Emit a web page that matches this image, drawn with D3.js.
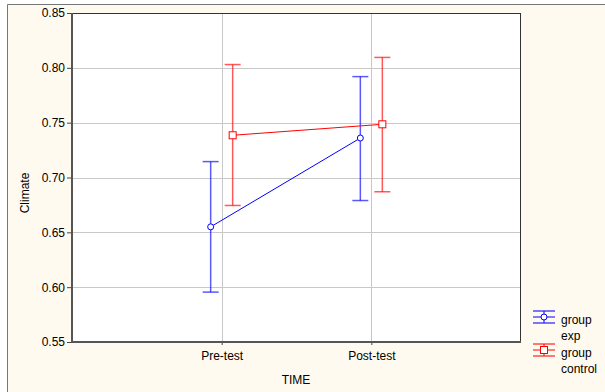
<!DOCTYPE html>
<html>
<head>
<meta charset="utf-8">
<script src="https://cdn.jsdelivr.net/npm/d3@7"></script>
<style>
  body { margin: 0; background: #fff; }
  text { font-family: "Liberation Sans", Arial, sans-serif; }
</style>
</head>
<body>
<script>
var w = 605;
var h = 392;

var times = ["Pre-test", "Post-test"];
var groups = ["exp", "control"];
var groupColors = ["#0000ff", "#ff0000"];
var expMean = [0.655, 0.736];
var expLow = [0.5955, 0.679];
var expHigh = [0.7145, 0.792];
var controlMean = [0.7385, 0.7485];
var controlLow = [0.6745, 0.687];
var controlHigh = [0.803, 0.8095];
var yTicks = [0.55, 0.60, 0.65, 0.70, 0.75, 0.80, 0.85];

var plotLeft = 72, plotRight = 521, plotTop = 13, plotBottom = 342;

var svg = d3.select("body")
    .append("svg")
    .attr("width", w)
    .attr("height", h);

// background panel
svg.append("rect")
    .attr("x", 7).attr("y", 4)
    .attr("width", w - 7).attr("height", h - 4)
    .attr("fill", "#fffaef");
svg.append("path")
    .attr("d", "M7.5," + h + "V4.5H" + w)
    .attr("fill", "none")
    .attr("stroke", "#777");

svg.append("rect")
    .attr("x", plotLeft).attr("y", plotTop)
    .attr("width", plotRight - plotLeft).attr("height", plotBottom - plotTop)
    .attr("fill", "#fff");

var xScale = d3.scalePoint()
    .domain(times)
    .range([plotLeft, plotRight])
    .padding(1);

var yScale = d3.scaleLinear()
    .domain([0.55, 0.85])
    .range([plotBottom, plotTop]);

var offset = d3.scalePoint()
    .domain(groups)
    .range([-11, 11]);

// grid
svg.append("g").selectAll("line")
    .data(yTicks.slice(1, -1))
    .enter().append("line")
    .attr("x1", plotLeft).attr("x2", plotRight)
    .attr("y1", function(d) { return Math.round(yScale(d)) + 0.5; })
    .attr("y2", function(d) { return Math.round(yScale(d)) + 0.5; })
    .attr("stroke", "#c8c8c8");

svg.append("g").selectAll("line")
    .data(times)
    .enter().append("line")
    .attr("y1", plotTop).attr("y2", plotBottom)
    .attr("x1", function(d) { return Math.round(xScale(d)) + 0.5; })
    .attr("x2", function(d) { return Math.round(xScale(d)) + 0.5; })
    .attr("stroke", "#c8c8c8");

// axes
var yAxis = d3.axisLeft(yScale)
    .tickValues(yTicks)
    .tickFormat(d3.format(".2f"))
    .tickSize(5)
    .tickPadding(2);

var gy = svg.append("g")
    .attr("transform", "translate(" + plotLeft + ",0)")
    .call(yAxis);
gy.select(".domain").remove();
gy.selectAll("line").attr("stroke", "#444");
gy.selectAll("text").style("font-size", "12px").attr("fill", "#000");

var xAxis = d3.axisBottom(xScale)
    .tickSize(3)
    .tickPadding(6);

var gx = svg.append("g")
    .attr("transform", "translate(0," + plotBottom + ")")
    .call(xAxis);
gx.select(".domain").remove();
gx.selectAll("line").attr("stroke", "#444");
gx.selectAll("text").style("font-size", "12px").attr("fill", "#000");

// frame
svg.append("rect")
    .attr("x", plotLeft + 0.5).attr("y", plotTop + 0.5)
    .attr("width", plotRight - plotLeft - 1).attr("height", plotBottom - plotTop - 1)
    .attr("fill", "none")
    .attr("stroke", "#333");
svg.append("path")
    .attr("d", "M" + plotLeft + "," + plotTop + "V" + plotBottom + "H" + plotRight)
    .attr("fill", "none")
    .attr("stroke", "#555")
    .attr("stroke-width", 2);

// series
var series = [
    { name: "exp", mean: expMean, low: expLow, high: expHigh, color: groupColors[0], shape: "circle" },
    { name: "control", mean: controlMean, low: controlLow, high: controlHigh, color: groupColors[1], shape: "square" }
];

series.forEach(function(s) {
    var pts = times.map(function(t, i) {
        return { x: xScale(t) + offset(s.name), m: s.mean[i], lo: s.low[i], hi: s.high[i] };
    });
    var g = svg.append("g");

    // error bars
    var eb = g.selectAll("g.err")
        .data(pts)
        .enter().append("g")
        .attr("stroke", s.color)
        .attr("stroke-opacity", 0.65)
        .attr("stroke-width", 1.5);
    eb.append("line")
        .attr("x1", function(d) { return d.x; }).attr("x2", function(d) { return d.x; })
        .attr("y1", function(d) { return yScale(d.lo); }).attr("y2", function(d) { return yScale(d.hi); });
    eb.append("line")
        .attr("x1", function(d) { return d.x - 8; }).attr("x2", function(d) { return d.x + 8; })
        .attr("y1", function(d) { return yScale(d.lo); }).attr("y2", function(d) { return yScale(d.lo); });
    eb.append("line")
        .attr("x1", function(d) { return d.x - 8; }).attr("x2", function(d) { return d.x + 8; })
        .attr("y1", function(d) { return yScale(d.hi); }).attr("y2", function(d) { return yScale(d.hi); });

    // line
    g.append("path")
        .datum(pts)
        .attr("d", d3.line().x(function(d) { return d.x; }).y(function(d) { return yScale(d.m); }))
        .attr("fill", "none")
        .attr("stroke", s.color)
        .attr("stroke-width", 1);

    // markers
    if (s.shape === "circle") {
        g.selectAll("circle")
            .data(pts)
            .enter().append("circle")
            .attr("cx", function(d) { return d.x; })
            .attr("cy", function(d) { return yScale(d.m); })
            .attr("r", 3)
            .attr("fill", "#fff")
            .attr("stroke", s.color);
    } else {
        g.selectAll("rect")
            .data(pts)
            .enter().append("rect")
            .attr("x", function(d) { return d.x - 3.5; })
            .attr("y", function(d) { return yScale(d.m) - 3.5; })
            .attr("width", 7).attr("height", 7)
            .attr("fill", "#fff")
            .attr("stroke", s.color);
    }
});

// legend
var legend = svg.append("g").attr("transform", "translate(544,317)");
series.forEach(function(s, i) {
    var lg = legend.append("g").attr("transform", "translate(0," + (i * 33) + ")");
    lg.append("line").attr("x1", -11).attr("x2", 11).attr("y1", -6).attr("y2", -6)
        .attr("stroke", s.color).attr("stroke-opacity", 0.7).attr("stroke-width", 1.5);
    lg.append("line").attr("x1", -11).attr("x2", 11).attr("y1", 6).attr("y2", 6)
        .attr("stroke", s.color).attr("stroke-opacity", 0.7).attr("stroke-width", 1.5);
    lg.append("line").attr("x1", -11).attr("x2", 11).attr("y1", 0).attr("y2", 0)
        .attr("stroke", s.color);
    lg.append("line").attr("x1", 0).attr("x2", 0).attr("y1", -6).attr("y2", 6)
        .attr("stroke", s.color);
    if (s.shape === "circle") {
        lg.append("circle").attr("r", 3).attr("fill", "#fff").attr("stroke", s.color);
    } else {
        lg.append("rect").attr("x", -3.5).attr("y", -3.5).attr("width", 7).attr("height", 7)
            .attr("fill", "#fff").attr("stroke", s.color);
    }
    lg.append("text").attr("x", 17).attr("y", 6.5).style("font-size", "12px").text("group");
    lg.append("text").attr("x", 17).attr("y", 22.5).style("font-size", "12px").text(s.name);
});

// X axis label
svg.append("text")
    .attr("text-anchor", "middle")
    .attr("x", 296)
    .attr("y", 384)
    .style("font-size", "12px")
    .text("TIME");

// Y axis label
svg.append("text")
    .attr("text-anchor", "middle")
    .attr("transform", "rotate(-90)")
    .attr("x", -193)
    .attr("y", 29)
    .style("font-size", "12px")
    .text("Climate");
</script>
</body>
</html>
